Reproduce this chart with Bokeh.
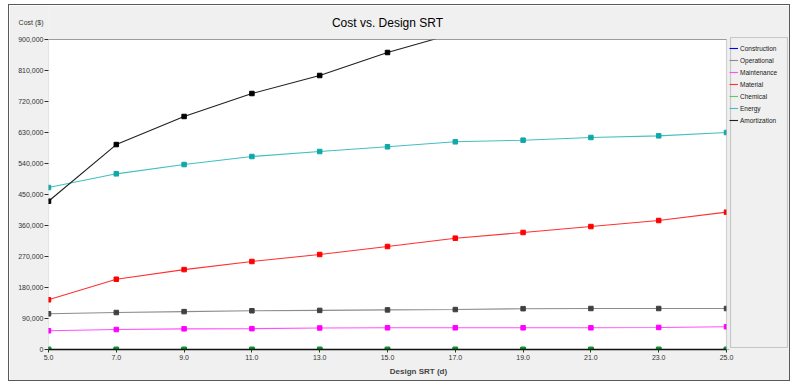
from bokeh.plotting import figure
from bokeh.models import (FixedTicker, NumeralTickFormatter, Legend, LegendItem,
                          Label, BoxAnnotation, Range1d, LinearAxis)
from bokeh.embed import file_html
from bokeh.resources import INLINE

# ---- data ----
srt = [5, 7, 9, 11, 13, 15, 17, 19, 21, 23, 25]
construction = [0, 0, 0, 0, 0, 0, 0, 0, 0, 0, 0]
operational = [103600, 107400, 110000, 112500, 113500, 115000, 116000, 118500, 119000, 119000, 119000]
maintenance = [54300, 58000, 60000, 60500, 62500, 63000, 63000, 63000, 63000, 64000, 66000]
material = [144300, 204000, 232000, 255500, 275800, 299000, 323200, 339700, 357000, 374500, 398700]
chemical = [0, 0, 0, 0, 0, 0, 0, 0, 0, 0, 0]
energy = [470300, 510000, 537000, 560300, 574800, 588500, 603000, 607700, 615500, 620300, 630000]
# only the part visible below the 900,000 ceiling can be read
amortization = [430500, 595000, 676500, 743200, 795500, 862300, 918000]

series_names = ["Construction", "Operational", "Maintenance", "Material", "Chemical", "Energy", "Amortization"]
series_values = [construction, operational, maintenance, material, chemical, energy, amortization]
line_colors = ["#0000ff", "#8c8c8c", "#ff50ff", "#ff3030", "#60c860", "#40c0c0", "#202020"]
marker_colors = ["#0000ff", "#404040", "#ff00ff", "#ff0000", "#00b000", "#10a8a8", "#000000"]

x_ticks = [5, 7, 9, 11, 13, 15, 17, 19, 21, 23, 25]
y_ticks = [0, 90000, 180000, 270000, 360000, 450000, 540000, 630000, 720000, 810000, 900000]
x_min, x_max = 5, 25
y_min, y_max = 0, 900000

title_text = "Cost vs. Design SRT"
y_title = "Cost ($)"
x_title = "Design SRT (d)"

FONT = "Liberation Sans"
GRAY_BG = "#f0f0f0"

# ---- layout (page pixels) ----
CANVAS_X, CANVAS_Y = 9, 5          # canvas origin on the page (after margin + border)
PLOT_L, PLOT_R, PLOT_T, PLOT_B = 48, 726, 39, 349   # plot area in page pixels
FRAME_R, FRAME_T = 788, 7
W, H = 782, 377

sx = (x_max - x_min) / (PLOT_R - PLOT_L)
sy = (y_max - y_min) / (PLOT_B - PLOT_T)


def X(px):
    return x_min + (px - PLOT_L) * sx


def Y(py):
    return y_min + (PLOT_B - py) * sy


cost_tick = 949000  # position of the "Cost ($)" caption on the y axis

p = figure(width=W, height=H, output_backend="svg", toolbar_location=None,
           x_range=Range1d(x_min, X(FRAME_R)), y_range=Range1d(y_min, Y(FRAME_T)),
           min_border_left=PLOT_L - CANVAS_X, min_border_right=CANVAS_X + W - FRAME_R,
           min_border_top=FRAME_T - CANVAS_Y, min_border_bottom=CANVAS_Y + H - PLOT_B)
p.styles = {"margin-left": "8px", "margin-top": "4px", "border": "1px solid #5a5a5a"}
p.border_fill_color = GRAY_BG
p.background_fill_color = GRAY_BG
p.outline_line_color = None
p.xgrid.visible = False
p.ygrid.visible = False

# labels axis (tick labels + the "Cost ($)" caption, no tick marks)
label_axis = p.yaxis[0]
label_axis.ticker = FixedTicker(ticks=y_ticks + [cost_tick])
label_axis.formatter = NumeralTickFormatter(format="0,0")
label_axis.major_label_overrides = {cost_tick: y_title}
label_axis.major_tick_out = 0
label_axis.major_tick_in = 0
label_axis.axis_line_color = None
label_axis.minor_tick_line_color = None
label_axis.major_label_text_font = FONT
label_axis.major_label_text_font_size = "7px"
label_axis.major_label_text_color = "#333333"
label_axis.major_label_standoff = 1

# tick-mark axis (nearest the plot, labels not drawn)
tick_axis = LinearAxis(ticker=FixedTicker(ticks=y_ticks), axis_line_color=None,
                       major_tick_out=4, major_tick_in=0, minor_tick_line_color=None,
                       major_tick_line_color="#303030", major_label_text_font_size="1px",
                       major_label_text_color=None, major_label_standoff=0)
p.left = [tick_axis, label_axis]

p.xaxis.ticker = FixedTicker(ticks=x_ticks)
p.xaxis.formatter = NumeralTickFormatter(format="0.0")
p.xaxis.minor_tick_line_color = None
p.xaxis.major_tick_in = 0
p.xaxis.major_label_text_font = FONT
p.xaxis.major_label_text_font_size = "7px"
p.xaxis.major_label_text_color = "#333333"
p.xaxis.major_label_standoff = 2
p.xaxis.bounds = (x_min, x_max)
p.xaxis.major_tick_out = 3
p.xaxis.major_tick_line_color = "#303030"
p.xaxis.axis_line_color = "#000000"
p.xaxis.axis_line_width = 1.5
p.xaxis.axis_label = x_title
p.xaxis.axis_label_text_font = FONT
p.xaxis.axis_label_text_font_size = "8px"
p.xaxis.axis_label_text_font_style = "bold"
p.xaxis.axis_label_standoff = 4

# white plotting area
p.add_layout(BoxAnnotation(left=x_min, right=x_max, bottom=y_min, top=y_max,
                           fill_color="#ffffff", fill_alpha=1, line_color=None,
                           level="underlay"))

items = []
for name, vals, lc, mc in zip(series_names, series_values, line_colors, marker_colors):
    xs = srt[:len(vals)]
    r = p.line(xs, vals, line_color=lc, line_width=1.1)
    p.scatter(xs, vals, marker="square", size=4.5, fill_color=mc, line_color=mc)
    items.append(LegendItem(label=name, renderers=[r]))

# covers outside the plotting area (clip lines / markers like the original)
p.add_layout(BoxAnnotation(bottom=y_max, top=Y(-30), left=X(0), right=X(800),
                           fill_color=GRAY_BG, fill_alpha=1, line_color=None,
                           level="annotation"))
p.add_layout(BoxAnnotation(left=x_max, right=X(800), bottom=Y(400), top=Y(-30),
                           fill_color=GRAY_BG, fill_alpha=1, line_color=None,
                           level="annotation"))

# plotting area borders
p.add_layout(BoxAnnotation(left=x_min, right=x_max, bottom=y_min, top=y_max,
                           fill_alpha=0, line_color="#808080", line_width=1.2,
                           level="overlay"))
p.add_layout(BoxAnnotation(left=x_min, right=x_max, bottom=y_max, top=y_max,
                           fill_alpha=0, line_color="#202020", line_width=1.2,
                           level="overlay"))

# legend box
p.add_layout(BoxAnnotation(left=X(730), right=X(787), top=Y(37), bottom=Y(347),
                           fill_color=GRAY_BG, fill_alpha=1,
                           line_color="#6a6a6a", line_width=1.2, level="overlay"))

legend = Legend(items=items, location=(729 - PLOT_L, PLOT_B - 126))
legend.background_fill_alpha = 0
legend.border_line_color = None
legend.label_text_font = FONT
legend.label_text_font_size = "6.5px"
legend.label_text_color = "#202020"
legend.label_height = 12
legend.glyph_height = 12
legend.glyph_width = 9
legend.spacing = 0
legend.label_standoff = 2
legend.padding = 2
legend.margin = 0
legend.level = "overlay"
p.add_layout(legend)

p.add_layout(Label(x=X(387), y=Y(22), text=title_text,
                   text_font=FONT, text_font_size="12px", text_align="center",
                   text_baseline="middle", text_color="#000000", level="overlay"))

open("out.html", "w").write(file_html(p, INLINE))
